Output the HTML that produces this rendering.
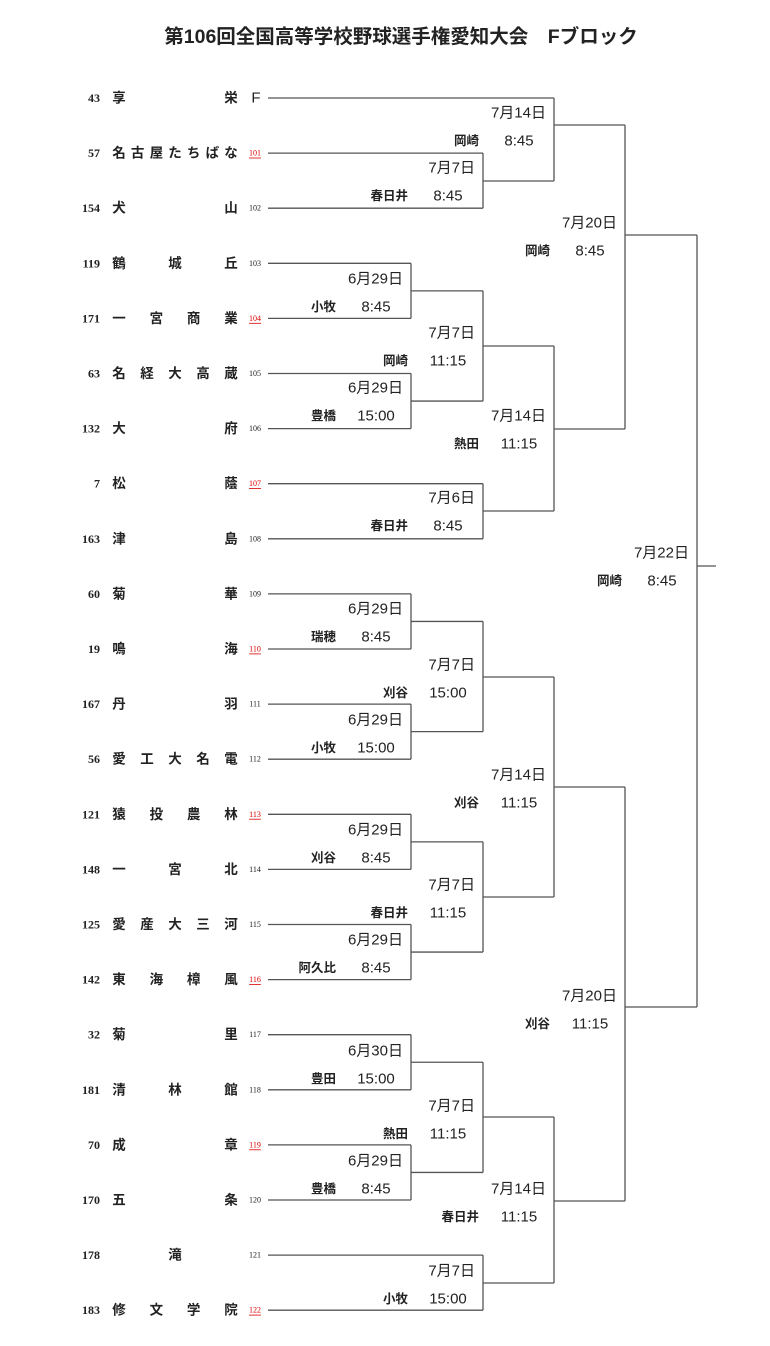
<!DOCTYPE html>
<html><head><meta charset="utf-8"><style>
html,body{margin:0;padding:0;background:#fff;}
svg{display:block;}
text{font-family:"Liberation Sans","Noto Sans CJK JP",sans-serif;fill:#222;}
.n{font-family:"Liberation Serif","Noto Serif CJK SC",serif;font-size:12px;font-weight:bold;}
.t{font-size:13.5px;font-weight:600;}
.c{font-family:"Liberation Serif",serif;font-size:8px;}
.r{fill:#d00;text-decoration:underline;}
.d{font-size:15px;}
.v{font-size:12.5px;font-weight:bold;}
.tm{font-size:15px;}
</style></head><body>
<svg width="770" height="1346" viewBox="0 0 770 1346" xmlns="http://www.w3.org/2000/svg">
<text x="401" y="37" text-anchor="middle" dominant-baseline="central" style="font-size:19.5px;font-weight:bold;">第106回全国高等学校野球選手権愛知大会　Fブロック</text>
<g id="teams"></g>
<g stroke="#555" stroke-width="1.3" fill="none" id="lines"></g>
<g id="labels"></g>
</svg>
<script>
const NS="http://www.w3.org/2000/svg";
function el(parent,tag,attrs,txt){const e=document.createElementNS(NS,tag);for(const k in attrs)e.setAttribute(k,attrs[k]);if(txt!==undefined)e.textContent=txt;document.getElementById(parent).appendChild(e);return e;}
const teams=[["43","享栄","F"],["57","名古屋たちばな","101"],["154","犬山","102"],["119","鶴城丘","103"],["171","一宮商業","104"],["63","名経大高蔵","105"],["132","大府","106"],["7","松蔭","107"],["163","津島","108"],["60","菊華","109"],["19","鳴海","110"],["167","丹羽","111"],["56","愛工大名電","112"],["121","猿投農林","113"],["148","一宮北","114"],["125","愛産大三河","115"],["142","東海樟風","116"],["32","菊里","117"],["181","清林館","118"],["70","成章","119"],["170","五条","120"],["178","滝","121"],["183","修文学院","122"]];
const red=["101","104","107","110","113","116","119","122"];
const Y=i=>98+i*55.1;
teams.forEach((t,i)=>{const y=Y(i);
el("teams","text",{x:100,y:y,"text-anchor":"end","dominant-baseline":"central",class:"n"},t[0]);
const ch=[...t[1]];
if(ch.length===1){el("teams","text",{x:175,y:y,"text-anchor":"middle","dominant-baseline":"central",class:"t"},ch[0]);}
else{const x0=119,x1=231;ch.forEach((c,j)=>{el("teams","text",{x:x0+(x1-x0)*j/(ch.length-1),y:y,"text-anchor":"middle","dominant-baseline":"central",class:"t"},c);});}
if(t[2]==="F")el("teams","text",{x:256,y:y,"text-anchor":"middle","dominant-baseline":"central",style:"font-size:15px;"},"F");
else el("teams","text",{x:255,y:y,"text-anchor":"middle","dominant-baseline":"central",class:"c"+(red.includes(t[2])?" r":"")},t[2]);
});
const C1=411,C2=483,C3=554,C4=625,C5=697;
const ends={0:C3,1:C2,2:C2,7:C2,8:C2,21:C2,22:C2};
teams.forEach((t,i)=>{const x=ends[i]||C1;el("lines","line",{x1:268,y1:Y(i),x2:x,y2:Y(i)});});
function vl(x,y1,y2){el("lines","line",{x1:x,y1:y1,x2:x,y2:y2});}
function hl(x1,x2,y){el("lines","line",{x1:x1,y1:y,x2:x2,y2:y});}
[[3,4],[5,6],[9,10],[11,12],[13,14],[15,16],[17,18],[19,20]].forEach(p=>vl(C1,Y(p[0]),Y(p[1])));
vl(C2,Y(1),Y(2));vl(C2,Y(7),Y(8));vl(C2,Y(21),Y(22));
const m=(a,b)=>(Y(a)+Y(b))/2;
hl(C1,C2,m(3,4));hl(C1,C2,m(5,6));vl(C2,m(3,4),m(5,6));
hl(C1,C2,m(9,10));hl(C1,C2,m(11,12));vl(C2,m(9,10),m(11,12));
hl(C1,C2,m(13,14));hl(C1,C2,m(15,16));vl(C2,m(13,14),m(15,16));
hl(C1,C2,m(17,18));hl(C1,C2,m(19,20));vl(C2,m(17,18),m(19,20));
hl(C2,C3,181);vl(C3,98,181);
hl(C2,C3,346);hl(C2,C3,511);vl(C3,346,511);
hl(C2,C3,677);hl(C2,C3,897);vl(C3,677,897);
hl(C2,C3,1117);hl(C2,C3,1283);vl(C3,1117,1283);
hl(C3,C4,125);hl(C3,C4,429);vl(C4,125,429);
hl(C3,C4,787);hl(C3,C4,1201);vl(C4,787,1201);
hl(C4,C5,235);hl(C4,C5,1007);vl(C5,235,1007);hl(C5,716,566);
const L=[[C3,113,"7月14日","岡崎","8:45"],[C2,168,"7月7日","春日井","8:45"],[C4,223,"7月20日","岡崎","8:45"],[C1,279,"6月29日","小牧","8:45"],[C2,333,"7月7日","岡崎","11:15"],[C1,388,"6月29日","豊橋","15:00"],[C3,416,"7月14日","熱田","11:15"],[C2,498,"7月6日","春日井","8:45"],[C5,553,"7月22日","岡崎","8:45"],[C1,609,"6月29日","瑞穂","8:45"],[C2,665,"7月7日","刈谷","15:00"],[C1,720,"6月29日","小牧","15:00"],[C3,775,"7月14日","刈谷","11:15"],[C1,830,"6月29日","刈谷","8:45"],[C2,885,"7月7日","春日井","11:15"],[C1,940,"6月29日","阿久比","8:45"],[C4,996,"7月20日","刈谷","11:15"],[C1,1051,"6月30日","豊田","15:00"],[C2,1106,"7月7日","熱田","11:15"],[C1,1161,"6月29日","豊橋","8:45"],[C3,1189,"7月14日","春日井","11:15"],[C2,1271,"7月7日","小牧","15:00"]];
L.forEach(l=>{const [x,y,d,v,t]=l;
el("labels","text",{x:x-8,y:y,"text-anchor":"end","dominant-baseline":"central",class:"d"},d);
el("labels","text",{x:x-75,y:y+28,"text-anchor":"end","dominant-baseline":"central",class:"v"},v);
el("labels","text",{x:x-35,y:y+28,"text-anchor":"middle","dominant-baseline":"central",class:"tm"},t);
});
</script>
</body></html>
